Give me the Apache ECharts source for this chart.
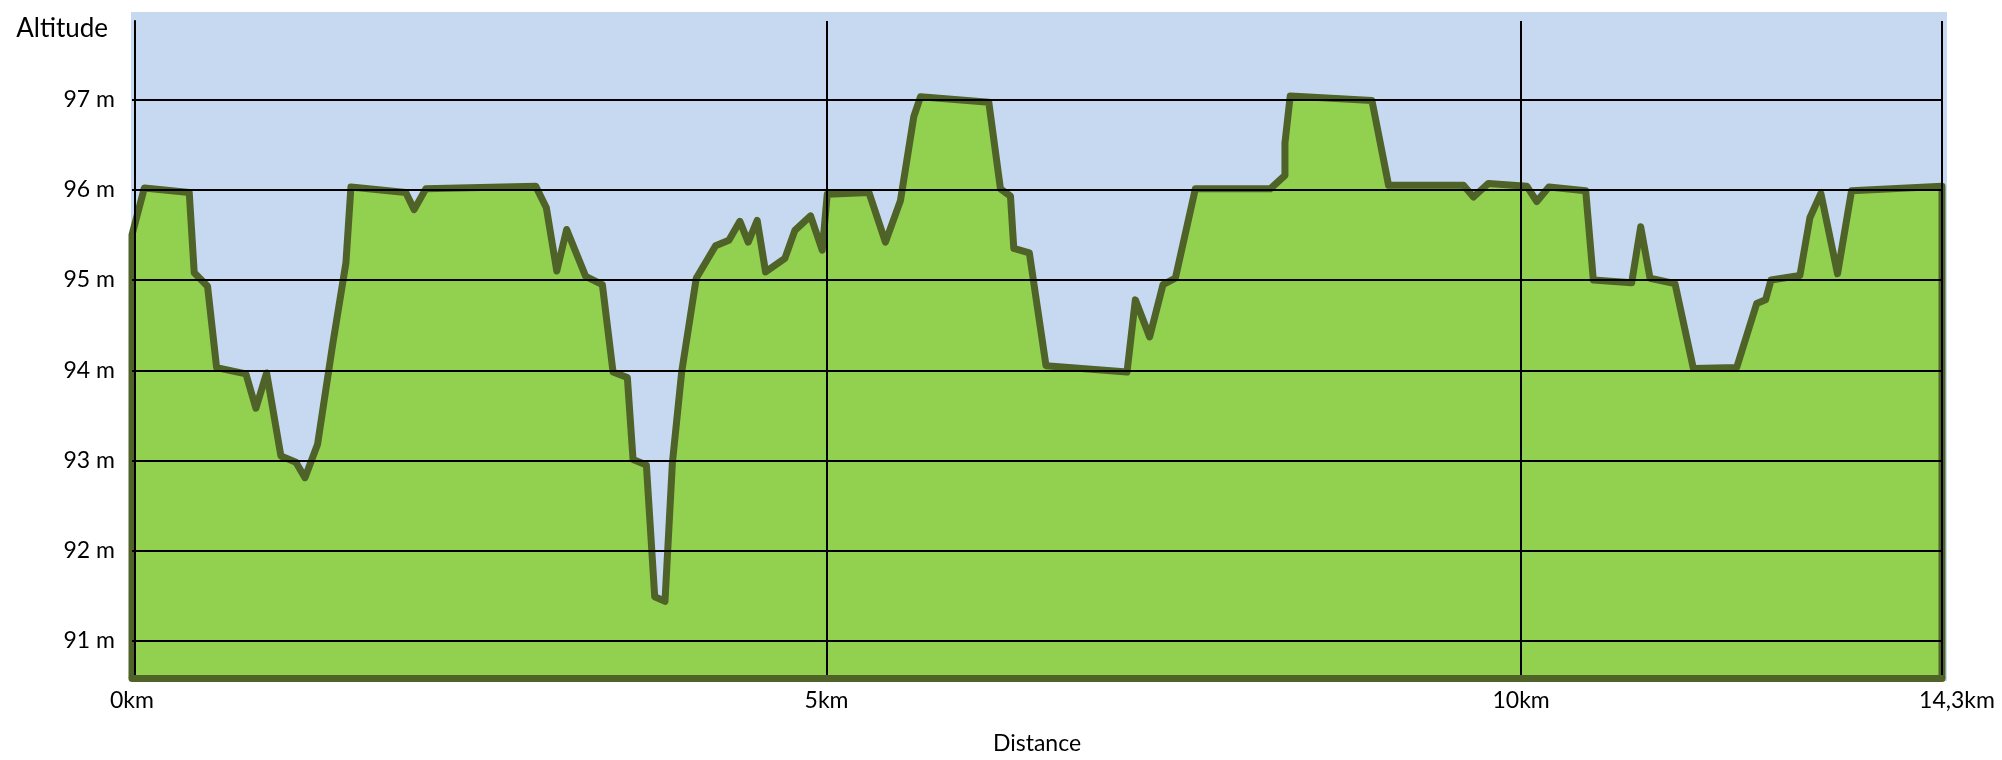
<!DOCTYPE html>
<html>
<head>
<meta charset="utf-8">
<script src="https://cdn.jsdelivr.net/npm/echarts@6/dist/echarts.min.js"></script>
<style>
  html, body { margin: 0; padding: 0; background: #ffffff; }
  #chart { width: 2002px; height: 760px; }
</style>
</head>
<body>
<div id="chart"></div>
<script>
// Distance along the route (km, on the axis scale) and altitude (m)
const distances = [0, 0.089, 0.412, 0.448, 0.544, 0.609, 0.820, 0.892, 0.969, 1.072,
  1.180, 1.245, 1.336, 1.444, 1.540, 1.576, 1.971, 2.031, 2.115, 2.906,
  2.983, 3.058, 3.129, 3.266, 3.386, 3.463, 3.566, 3.607, 3.703, 3.763,
  3.837, 3.890, 3.957, 4.062, 4.201, 4.297, 4.376, 4.436, 4.501, 4.561,
  4.700, 4.772, 4.885, 4.969, 5.005, 5.305, 5.424, 5.532, 5.628, 5.676,
  6.168, 6.252, 6.324, 6.348, 6.460, 6.580, 7.163, 7.223, 7.326, 7.422,
  7.511, 7.655, 8.194, 8.300, 8.300, 8.338, 8.926, 9.046, 9.585, 9.657,
  9.765, 10.041, 10.113, 10.200, 10.465, 10.520, 10.796, 10.861, 10.928, 11.108,
  11.240, 11.552, 11.696, 11.760, 11.799, 12.007, 12.079, 12.158, 12.278, 12.379,
  13.030];
const altitudes = [95.50, 96.02, 95.97, 95.08, 94.93, 94.03, 93.96, 93.58, 93.97, 93.05,
  92.98, 92.81, 93.18, 94.28, 95.19, 96.03, 95.97, 95.78, 96.01, 96.04,
  95.80, 95.10, 95.56, 95.04, 94.95, 93.98, 93.92, 93.01, 92.95, 91.49,
  91.44, 92.97, 93.98, 95.02, 95.38, 95.44, 95.65, 95.42, 95.66, 95.09,
  95.24, 95.55, 95.71, 95.33, 95.95, 95.97, 95.42, 95.88, 96.81, 97.03,
  96.97, 96.01, 95.93, 95.35, 95.30, 94.05, 93.98, 94.78, 94.37, 94.95,
  95.02, 96.01, 96.01, 96.16, 96.52, 97.04, 96.99, 96.05, 96.05, 95.92,
  96.07, 96.04, 95.87, 96.03, 95.99, 95.00, 94.97, 95.59, 95.02, 94.96,
  94.02, 94.03, 94.74, 94.78, 95.00, 95.05, 95.69, 95.96, 95.07, 95.99,
  96.04];

// Axis ticks and labels
const xTickValues = [0, 5, 10];
const xTickLabels = ['0km', '5km', '10km'];
const xEndLabel = '14,3km';
const X_MIN = 0, X_MAX = 13.03;
const Y_MIN = 90.59, Y_MAX = 97.87;
const yUnit = ' m';
const xAxisTitle = 'Distance';
const yAxisTitle = 'Altitude';

const FONT = 'Lato';

// Build the closed profile: up the left edge, along the route, down the right edge
const profile = [[X_MIN, Y_MIN]];
for (let i = 0; i < distances.length; i++) profile.push([distances[i], altitudes[i]]);
profile.push([X_MAX, Y_MIN]);

const chart = echarts.init(document.getElementById('chart'), null, { renderer: 'canvas' });

chart.setOption({
  animation: false,
  backgroundColor: '#ffffff',
  graphic: [{
    type: 'rect',
    z: -10,
    silent: true,
    shape: { x: 131, y: 12, width: 1816, height: 669 },
    style: { fill: '#C6D9F1' }
  }],
  grid: { left: 132, right: 60, top: 21, bottom: 79, containLabel: false },
  xAxis: {
    type: 'value',
    min: X_MIN,
    max: X_MAX,
    interval: 5,
    z: 5,
    name: xAxisTitle,
    nameLocation: 'middle',
    nameGap: 54,
    nameTextStyle: { fontFamily: FONT, fontSize: 23, color: '#000' },
    axisLine: { show: true, lineStyle: { color: '#4F6228', width: 7 } },
    axisTick: { show: false },
    axisLabel: {
      show: true,
      margin: 11,
      fontFamily: FONT,
      fontSize: 23,
      color: '#000',
      showMinLabel: true,
      showMaxLabel: true,
      formatter: function (v) {
        if (Math.abs(v - X_MAX) < 1e-6) return '{last|' + xEndLabel + '}';
        const i = xTickValues.findIndex(t => Math.abs(t - v) < 1e-6);
        return i >= 0 ? xTickLabels[i] : '';
      },
      rich: {
        last: { fontFamily: FONT, fontSize: 23, color: '#000', padding: [0, 0, 0, 30] }
      }
    },
    splitLine: { show: true, showMinLine: false, showMaxLine: true, lineStyle: { color: '#000', width: 2 } }
  },
  yAxis: {
    type: 'value',
    min: Y_MIN,
    max: Y_MAX,
    minInterval: 1,
    maxInterval: 1,
    offset: -3,
    z: 5,
    name: yAxisTitle,
    nameLocation: 'end',
    nameGap: -8,
    nameTextStyle: {
      fontFamily: FONT, fontSize: 26, color: '#000',
      align: 'right', verticalAlign: 'middle', padding: [0, 27, 0, 0]
    },
    axisLine: { show: true, lineStyle: { color: '#000', width: 2 } },
    axisTick: { show: false },
    axisLabel: {
      margin: 20,
      fontFamily: FONT,
      fontSize: 23,
      color: '#000',
      formatter: function (v) {
        return Math.abs(v - Math.round(v)) < 1e-6 ? Math.round(v) + yUnit : '';
      }
    },
    splitLine: { show: true, showMinLine: false, showMaxLine: false, lineStyle: { color: '#000', width: 2 } }
  },
  series: [{
    type: 'line',
    z: 2,
    data: profile,
    showSymbol: false,
    symbol: 'none',
    clip: true,
    lineStyle: { color: '#4F6228', width: 7, join: 'round' },
    areaStyle: { color: '#92D050', opacity: 1, origin: 'start' }
  }]
});
</script>
</body>
</html>
